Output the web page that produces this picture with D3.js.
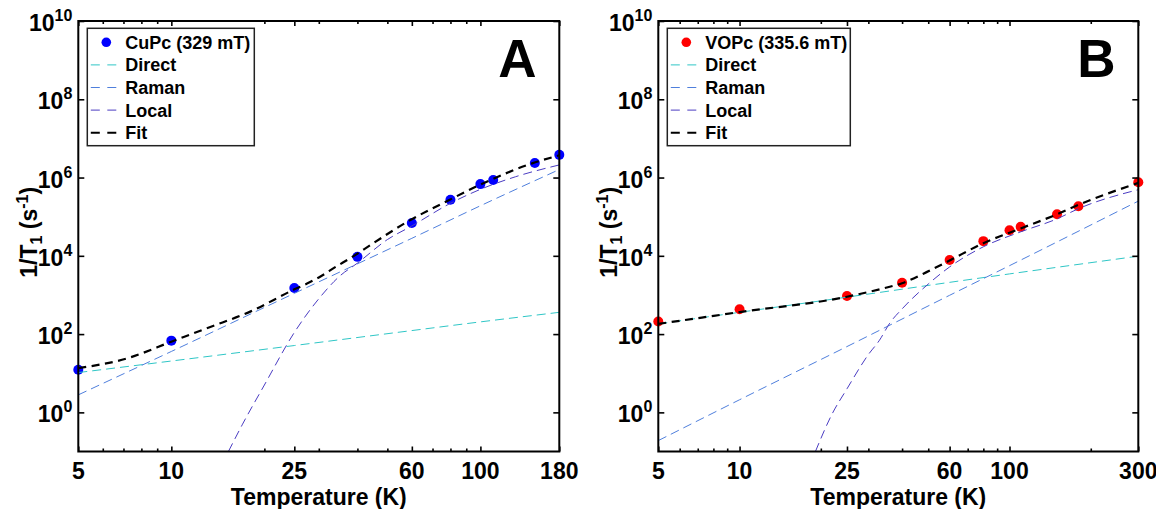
<!DOCTYPE html>
<html>
<head>
<meta charset="utf-8">
<script src="https://cdn.jsdelivr.net/npm/d3@7"></script>
<style>
  body { margin: 0; background: #fff; }
  svg text { font-family: "Liberation Sans", Arial, Helvetica, sans-serif; font-weight: bold; fill: #000; }
</style>
</head>
<body>
<svg id="chart" width="1156" height="509"></svg>
<script>
// ---- panel A: CuPc (329 mT) ----
const tempA = [5, 10, 25, 40, 60, 80, 100, 110, 150, 180];
const rateA = [12.3, 68, 1500, 9400, 69000, 270000, 680000, 870000, 2.35e6, 3.8e6];
const directTA = [5, 10, 25, 60, 100, 180];
const directA = [10.4, 20.5, 51, 123, 205, 360];
const ramanTA = [5, 10, 25, 60, 100, 180];
const ramanA = [2.8, 36, 1100, 2.8e4, 1.9e5, 1.6e6];
const localTA = [15.3, 17, 20, 25, 30, 35, 40, 50, 60, 80, 100, 130, 180];
const localA = [0.1, 0.5, 5, 110, 800, 3000, 6500, 2.6e4, 5.8e4, 2.2e5, 5e5, 1.05e6, 2.1e6];
const fitTA = [5, 7.2, 10, 13.3, 18, 25, 28, 30, 34, 38, 45, 58, 79, 100, 147, 180];
const fitA = [13.5, 24, 64, 150, 375, 1390, 2100, 2800, 5200, 8800, 21000, 74000, 263000, 660000, 2.3e6, 3.7e6];

// ---- panel B: VOPc (335.6 mT) ----
const tempB = [5, 10, 25, 40, 60, 80, 100, 110, 150, 180, 300];
const rateB = [209, 430, 940, 2050, 7800, 23700, 45000, 55000, 115000, 185000, 7.6e5];
const directTB = [5, 10, 25, 60, 100, 300];
const directB = [182, 360, 880, 2100, 3450, 9800];
const ramanTB = [5, 10, 25, 60, 100, 300];
const ramanB = [0.19, 2.1, 48, 980, 5600, 2.5e5];
const localTB = [19.1, 22, 25, 30, 33, 36, 40, 50, 60, 80, 110, 150, 180, 300];
const localB = [0.1, 0.9, 4, 30, 70, 190, 440, 1900, 5200, 17000, 41000, 88000, 1.6e5, 4.9e5];
const fitTB = [5, 10, 25, 33, 36, 40, 48, 60, 80, 110, 150, 180, 300];
const fitB = [182, 365, 900, 1390, 1620, 1990, 3500, 7600, 21000, 50000, 1.15e5, 2.0e5, 7.3e5];

// ticks
const xMajorA = [5, 10, 25, 60, 100, 180];
const xMajorB = [5, 10, 25, 60, 100, 300];
const xMinor = [6, 7, 8, 9, 20, 30, 40, 50, 70, 80, 90, 200];
const yExp = [0, 2, 4, 6, 8, 10];

const colors = { direct: "#2fc6c6", raman: "#4f7fdc", local: "#4a3cc2", fit: "#000" };

const svg = d3.select("#chart");
const plotTop = 21, plotBottom = 451.5;

function drawPanel(p) {
  const g = svg.append("g");
  const x = d3.scaleLog().domain(p.xDomain).range([p.left, p.right]);
  const y = d3.scaleLog().domain([1e-1, 1e10]).range([plotBottom, plotTop]);

  const clipId = "clip" + p.name;
  svg.append("clipPath").attr("id", clipId)
    .append("rect")
    .attr("x", p.left).attr("y", plotTop)
    .attr("width", p.right - p.left).attr("height", plotBottom - plotTop);

  // data markers
  g.append("g").selectAll("circle")
    .data(p.temp.map((t, i) => [t, p.rate[i]]))
    .join("circle")
    .attr("cx", d => x(d[0]))
    .attr("cy", d => y(d[1]))
    .attr("r", 5)
    .attr("fill", p.color);

  const line = d3.line()
    .x(d => x(d[0]))
    .y(d => y(d[1]))
    .curve(d3.curveMonotoneX);

  const curves = [
    { T: p.directT, v: p.direct, c: colors.direct, w: 1, dash: "9,5" },
    { T: p.ramanT, v: p.raman, c: colors.raman, w: 1, dash: "9,5" },
    { T: p.localT, v: p.local, c: colors.local, w: 1, dash: "9,5" },
    { T: p.fitT, v: p.fit, c: colors.fit, w: 2.2, dash: "8,5.5" }
  ];
  const cg = g.append("g").attr("clip-path", "url(#" + clipId + ")");
  curves.forEach(cv => {
    cg.append("path")
      .datum(cv.T.map((t, i) => [t, cv.v[i]]))
      .attr("d", line)
      .attr("fill", "none")
      .attr("stroke", cv.c)
      .attr("stroke-width", cv.w)
      .attr("stroke-dasharray", cv.dash);
  });

  // axes (ticks point inward)
  const minor = xMinor.filter(v => v > p.xDomain[0] && v < p.xDomain[1]);
  const yTicks = yExp.map(e => Math.pow(10, e));
  const axes = [
    [d3.axisBottom(x).tickValues(p.xMajor).tickSize(-5), `translate(0,${plotBottom})`],
    [d3.axisBottom(x).tickValues(minor).tickSize(-3), `translate(0,${plotBottom})`],
    [d3.axisTop(x).tickValues(p.xMajor).tickSize(-5), `translate(0,${plotTop})`],
    [d3.axisTop(x).tickValues(minor).tickSize(-3), `translate(0,${plotTop})`],
    [d3.axisLeft(y).tickValues(yTicks).tickSize(-6), `translate(${p.left},0)`],
    [d3.axisRight(y).tickValues(yTicks).tickSize(-6), `translate(${p.right},0)`]
  ];
  axes.forEach(([ax, tr]) => {
    const a = g.append("g").attr("transform", tr)
      .call(ax.tickFormat("").tickSizeOuter(0));
    a.select(".domain").remove();
    a.selectAll("line").attr("stroke", "#000").attr("stroke-width", 1.6);
  });

  g.append("rect")
    .attr("x", p.left).attr("y", plotTop)
    .attr("width", p.right - p.left).attr("height", plotBottom - plotTop)
    .attr("fill", "none").attr("stroke", "#000").attr("stroke-width", 2);

  // x tick labels
  g.append("g").selectAll("text")
    .data(p.xMajor)
    .join("text")
    .attr("x", d => x(d))
    .attr("y", 478.5)
    .attr("text-anchor", "middle")
    .style("font-size", "23px")
    .text(d => d);

  // y tick labels
  const yl = g.append("g").selectAll("text")
    .data(yExp)
    .join("text")
    .attr("x", p.left - 6)
    .attr("y", e => y(Math.pow(10, e)) + 10)
    .attr("text-anchor", "end")
    .style("font-size", "23px");
  yl.append("tspan").text("10");
  yl.append("tspan").attr("dy", -10).style("font-size", "16px").text(e => e);

  // axis titles
  g.append("text")
    .attr("x", (p.left + p.right) / 2)
    .attr("y", 504.5)
    .attr("text-anchor", "middle")
    .style("font-size", "23px")
    .text("Temperature (K)");

  const yt = g.append("text")
    .attr("transform", `translate(${p.left - 41},${(plotTop + plotBottom) / 2 - 4}) rotate(-90)`)
    .attr("text-anchor", "middle")
    .style("font-size", "23px");
  yt.append("tspan").text("1/T");
  yt.append("tspan").attr("dy", 5).style("font-size", "16px").text("1");
  yt.append("tspan").attr("dy", -5).text(" (s");
  yt.append("tspan").attr("dy", -9).style("font-size", "16px").text("-1");
  yt.append("tspan").attr("dy", 9).text(")");

  // panel letter
  g.append("text")
    .attr("x", p.right - 42)
    .attr("y", 76.7)
    .attr("text-anchor", "middle")
    .style("font-size", "53px")
    .text(p.name);

  // legend
  const lx = p.left + 9, ly = 28.3;
  const lg = g.append("g");
  lg.append("rect")
    .attr("x", lx).attr("y", ly)
    .attr("width", p.legendW).attr("height", 117.4)
    .attr("fill", "#fff").attr("stroke", "#222").attr("stroke-width", 1.5);
  const items = [
    { label: p.label, marker: true },
    { label: "Direct", c: colors.direct, w: 1 },
    { label: "Raman", c: colors.raman, w: 1 },
    { label: "Local", c: colors.local, w: 1 },
    { label: "Fit", c: colors.fit, w: 2 }
  ];
  items.forEach((it, i) => {
    const cy = ly + 14 + i * 22.6;
    if (it.marker) {
      lg.append("circle").attr("cx", lx + 19).attr("cy", cy).attr("r", 4.8).attr("fill", p.color);
    } else {
      lg.append("line")
        .attr("x1", lx + 3.5).attr("x2", lx + 30)
        .attr("y1", cy).attr("y2", cy)
        .attr("stroke", it.c).attr("stroke-width", it.w)
        .attr("stroke-dasharray", "9,7.5");
    }
    lg.append("text")
      .attr("x", lx + 38).attr("y", cy + 6.5)
      .style("font-size", "18px")
      .text(it.label);
  });
}

drawPanel({
  name: "A", left: 78.3, right: 559.3, xDomain: [5, 180], xMajor: xMajorA,
  color: "#0000ff", label: "CuPc (329 mT)", legendW: 167,
  temp: tempA, rate: rateA,
  directT: directTA, direct: directA, ramanT: ramanTA, raman: ramanA,
  localT: localTA, local: localA, fitT: fitTA, fit: fitA
});

drawPanel({
  name: "B", left: 658.3, right: 1138.3, xDomain: [5, 300], xMajor: xMajorB,
  color: "#ff0000", label: "VOPc (335.6 mT)", legendW: 183,
  temp: tempB, rate: rateB,
  directT: directTB, direct: directB, ramanT: ramanTB, raman: ramanB,
  localT: localTB, local: localB, fitT: fitTB, fit: fitB
});
</script>
</body>
</html>
